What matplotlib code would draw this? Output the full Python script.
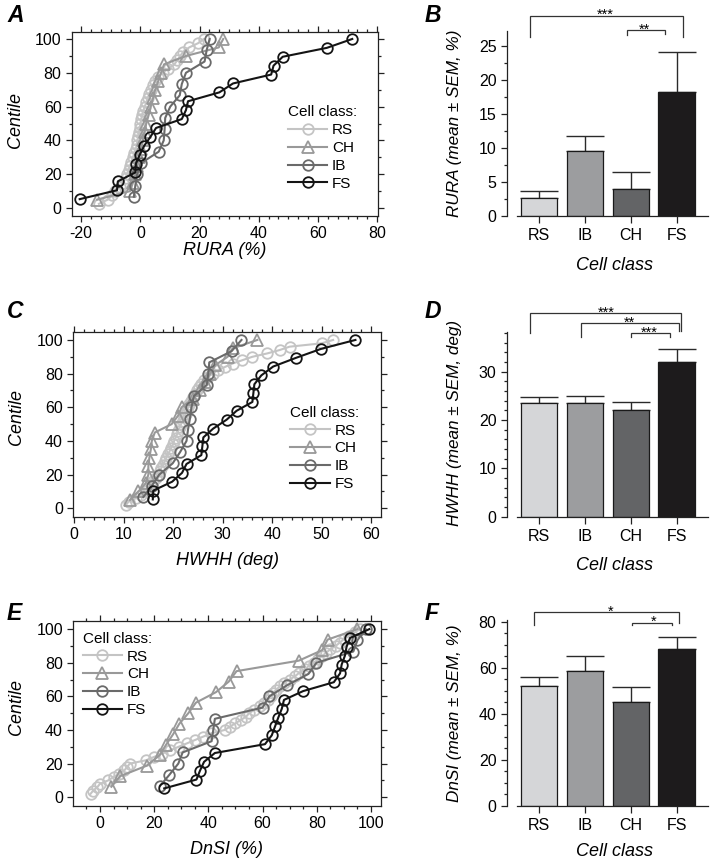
import numpy as np
import matplotlib
matplotlib.use('Agg')
import matplotlib.pyplot as plt
from matplotlib.ticker import MultipleLocator

plt.rcParams['font.family'] = ['Liberation Sans', 'DejaVu Sans']
plt.rcParams['axes.unicode_minus'] = False

# ---------------- data ----------------
cdf_classes = ['RS', 'CH', 'IB', 'FS']
bar_classes = ['RS', 'IB', 'CH', 'FS']

# Panel A: RURA (%) of individual cells
rura_rs = [-14, -11, -9.5, -8.5, -7, -6, -5, -4.5, -4, -3.5, -3, -2.5, -2, -1.5, -1.2,
           -1, -0.7, -0.4, -0.2, 0, 0.3, 0.6, 1, 1.5, 2, 2.5, 3, 3.5, 4.2, 5,
           6, 7.5, 9.5, 11.5, 12.5, 13.5, 14.5, 16.5, 19.5, 21.5]
rura_ch = [-14.6, -3.5, -2.5, -1.7, -1, -0.4, 0.2, 0.8, 1.4, 2, 2.8, 3.5, 4.3, 5, 6,
           7, 8, 15.5, 26.5, 28]
rura_ib = [-2.2, -1.7, -1.1, 0.3, 6.2, 7.9, 8.2, 8.4, 10.1, 13.3, 14, 15.4, 21.7, 22.4, 23.4]
rura_fs = [-20.5, -7.9, -7.6, -1.7, -1.5, -0.2, 1.3, 3.4, 5.3, 14, 15.4, 16.1, 26.7,
           31.3, 44.2, 45, 48.1, 63, 71.6]

# Panel C: HWHH (deg) of individual cells
hwhh_rs = [10.5, 11, 12.5, 13.5, 14.5, 15, 15.5, 16, 16.5, 17, 17.3, 17.6, 18, 18.3, 18.6,
           19, 19.3, 19.6, 20, 20.2, 20.5, 20.8, 21, 21.3, 21.6, 21.9, 22.2, 22.5, 22.8, 23,
           23.3, 23.6, 24, 24.4, 24.8, 25.2, 25.6, 26.2, 27, 28, 29, 30.5, 32, 34, 36,
           39, 41.5, 43.5, 50, 52.3]
hwhh_ch = [11.3, 13, 14.5, 15, 15, 15.2, 15.5, 15.7, 16.3, 19.7, 21, 21.7, 24, 25.5, 26.5,
           27.5, 28.5, 31, 32, 37]
hwhh_ib = [14, 15.7, 17.2, 19.9, 21.4, 22.7, 23, 23.4, 23.7, 24.2, 26.8, 27.1, 27.3, 31.8, 33.8]
hwhh_fs = [15.9, 16, 19.8, 21.8, 22.7, 25.7, 25.9, 26.1, 28.1, 30.8, 32.8, 36, 36.2, 36.4,
           37.8, 40.2, 44.9, 49.9, 56.8]

# Panel E: DnSI (%) of individual cells
dnsi_rs = [-3.5, -2.5, -1, 0, 3, 5, 7, 9, 10, 11, 17, 20, 23, 26, 29, 32, 35, 38, 41, 46,
           48, 50, 52, 54, 55, 57, 59, 60.5, 62, 63, 64, 65, 66.5, 68, 70, 72, 73.5, 75.5,
           77, 79, 80.5, 82, 83.5, 85, 87, 88.5, 90, 92, 94, 96]
dnsi_ch = [4.2, 7.4, 17.2, 22, 24.4, 27, 29.3, 32.6, 35.4, 42.8, 47.5, 50.4, 73.4, 82, 84, 95]
dnsi_ib = [22.1, 25.6, 28.9, 30.5, 41.2, 41.8, 42.4, 60, 62.5, 69.1, 76.9, 79.9, 93.5, 95, 98]
dnsi_fs = [23.7, 35.6, 36.9, 38.4, 42.4, 60.9, 63.4, 64.6, 65.8, 67.1, 67.9, 75, 86.3,
           88.6, 89.2, 90.4, 91, 92.3, 99.4]

# Panels B, D, F: mean and SEM (order RS, IB, CH, FS)
rura_mean = [2.6, 9.6, 4.0, 18.2]
rura_sem = [1.1, 2.2, 2.4, 5.8]
hwhh_mean = [23.6, 23.6, 22.1, 32.1]
hwhh_sem = [1.1, 1.4, 1.6, 2.6]
dnsi_mean = [52.1, 58.6, 45.1, 68.3]
dnsi_sem = [3.9, 6.6, 6.5, 5.0]

# ---------------- style ----------------
line_col = {'RS': '#c4c4c4', 'CH': '#999999', 'IB': '#6a6a6a', 'FS': '#141414'}
marker = {'RS': 'o', 'CH': '^', 'IB': 'o', 'FS': 'o'}
bar_col = ['#d5d6d8', '#9c9d9f', '#636466', '#1d1b1c']

W, H = 714, 866
fig = plt.figure(figsize=(W / 100, H / 100), dpi=100)


def rect(x0, x1, y_top, y_bot):
    return [x0 / W, 1 - y_bot / H, (x1 - x0) / W, (y_bot - y_top) / H]


def ecdf(vals):
    v = np.sort(np.asarray(vals, dtype=float))
    return v, 100.0 * np.arange(1, len(v) + 1) / len(v)


def cdf_panel(pos, series, xlim, ylim, xmaj, xmin, xlabel, xl_y, yl_y, leg_xy):
    ax = fig.add_axes(pos)
    for cls in cdf_classes:
        x, y = ecdf(series[cls])
        ms = 8.2 if marker[cls] == '^' else 7.6
        ax.plot(x, y, color=line_col[cls], lw=1.5, marker=marker[cls], ms=ms,
                mfc='none', mec=line_col[cls], mew=1.3, label=cls)
    ax.set_xlim(*xlim)
    ax.set_ylim(*ylim)
    ax.xaxis.set_major_locator(MultipleLocator(xmaj))
    ax.xaxis.set_minor_locator(MultipleLocator(xmin))
    ax.yaxis.set_major_locator(MultipleLocator(20))
    ax.yaxis.set_minor_locator(MultipleLocator(10))
    ax.tick_params(which='both', direction='out', top=True, right=True,
                   labelsize=11.5, color='#222222', width=0.9)
    ax.tick_params(which='major', length=4.5, pad=3)
    ax.tick_params(which='minor', length=2.5)
    for s in ax.spines.values():
        s.set_linewidth(0.9)
        s.set_color('#222222')
    ax.set_xlabel(xlabel, fontsize=13, style='italic', va='top')
    ax.xaxis.set_label_coords(0.5, xl_y)
    ax.set_ylabel('Centile', fontsize=13, style='italic', va='bottom')
    ax.yaxis.set_label_coords(-0.158, yl_y)
    ax.legend(loc='upper left', bbox_to_anchor=leg_xy, frameon=False,
              title='Cell class:', alignment='left', fontsize=11, title_fontsize=11,
              handlelength=2.6, handletextpad=0.3, labelspacing=0.25,
              borderpad=0, borderaxespad=0, numpoints=1)
    return ax


def bar_panel(pos, mean, sem, ylim, ymaj, ymin, ylabel, xl_y, yl_y, brackets, stars):
    ax = fig.add_axes(pos)
    x = np.arange(len(bar_classes))
    ax.bar(x, mean, width=0.8, color=bar_col, edgecolor='#1a1a1a', linewidth=0.9, zorder=2)
    ax.errorbar(x, mean, yerr=[np.zeros(len(sem)), sem], fmt='none', ecolor='#2a2a2a',
                elinewidth=1.0, capsize=14, capthick=1.0, zorder=1)
    ax.set_xlim(-0.49, 3.69)
    ax.set_ylim(*ylim)
    ax.set_xticks(x)
    ax.set_xticklabels(bar_classes)
    ax.yaxis.set_major_locator(MultipleLocator(ymaj))
    ax.yaxis.set_minor_locator(MultipleLocator(ymin))
    for s in ['top', 'right']:
        ax.spines[s].set_visible(False)
    ax.spines['left'].set_position(('outward', 7))
    for s in ['left', 'bottom']:
        ax.spines[s].set_linewidth(0.9)
        ax.spines[s].set_color('#222222')
    ax.tick_params(which='both', direction='out', labelsize=11.5, color='#222222', width=0.9)
    ax.tick_params(axis='x', length=5, pad=4, labelsize=11.5)
    ax.tick_params(axis='y', which='major', length=4.5, pad=3)
    ax.tick_params(axis='y', which='minor', length=2.5)
    ax.set_xlabel('Cell class', fontsize=13, style='italic', va='top')
    ax.xaxis.set_label_coords(0.513, xl_y)
    ax.set_ylabel(ylabel, fontsize=12.3, style='italic', va='bottom')
    ax.yaxis.set_label_coords(-0.285, yl_y)
    for (x0, x1, y, yl, yr) in brackets:
        ax.plot([x0, x0, x1, x1], [yl, y, y, yr], color='#333333', lw=0.9,
                clip_on=False, solid_joinstyle='miter')
    for (xs, ys, txt) in stars:
        ax.annotate(txt, xy=(xs, ys), xytext=(0, -2.5), textcoords='offset points',
                    ha='center', va='baseline', fontsize=10.5, annotation_clip=False)
    return ax


# ---- CDF panels ----
cdf_panel(rect(72, 378, 31.7, 216),
          {'RS': rura_rs, 'CH': rura_ch, 'IB': rura_ib, 'FS': rura_fs},
          (-23.1, 80.3), (-4.7, 104.3), 20, 20 / 6, 'RURA (%)', -0.14, 0.52,
          (0.705, 0.60))
cdf_panel(rect(73.3, 380.7, 331.7, 516.7),
          {'RS': hwhh_rs, 'CH': hwhh_ch, 'IB': hwhh_ib, 'FS': hwhh_fs},
          (-0.15, 61.9), (-5, 104.9), 10, 2, 'HWHH (deg)', -0.19, 0.54,
          (0.705, 0.60))
cdf_panel(rect(73.3, 380.7, 620.7, 806),
          {'RS': dnsi_rs, 'CH': dnsi_ch, 'IB': dnsi_ib, 'FS': dnsi_fs},
          (-9.85, 103.6), (-5.2, 105), 20, 5, 'DnSI (%)', -0.19, 0.536,
          (0.03, 0.94))

# ---- bar panels ----
bar_panel(rect(516.7, 708.3, 30.7, 216), rura_mean, rura_sem, (0, 27.2), 5, 2.5,
          'RURA (mean ± SEM, %)', -0.22, 0.50,
          [(-0.21, 3.13, 29.4, 26.3, 26.3), (1.91, 2.75, 27.3, 26.6, 26.7)],
          [(1.44, 29.4, '***'), (2.29, 27.3, '**')])
bar_panel(rect(516.7, 708.3, 331.7, 516.7), hwhh_mean, hwhh_sem, (0, 38.3), 10, 2,
          'HWHH (mean ± SEM, deg)', -0.22, 0.506,
          [(-0.21, 3.09, 42.1, 38.0, 38.5), (0.91, 3.05, 40.0, 37.3, 38.5),
           (2.0, 2.85, 38.0, 37.3, 37.3)],
          [(1.47, 42.1, '***'), (1.97, 40.0, '**'), (2.41, 38.0, '***')])
bar_panel(rect(516.7, 708.3, 620, 806), dnsi_mean, dnsi_sem, (0, 80.7), 20, 5,
          'DnSI (mean ± SEM, %)', -0.2, 0.50,
          [(-0.11, 3.06, 84.1, 78.6, 79.5), (2.02, 2.9, 79.6, 78.6, 78.6)],
          [(1.56, 84.1, '*'), (2.49, 79.6, '*')])

# ---- panel letters ----
for letter, (px, py) in {'A': (7, 22), 'B': (425, 22), 'C': (7, 318), 'D': (425, 318),
                         'E': (7, 620), 'F': (425, 620)}.items():
    fig.text(px / W, 1 - py / H, letter, fontsize=16.5, fontweight='bold', style='italic',
             ha='left', va='baseline')

fig.savefig('out.png', dpi=100)
